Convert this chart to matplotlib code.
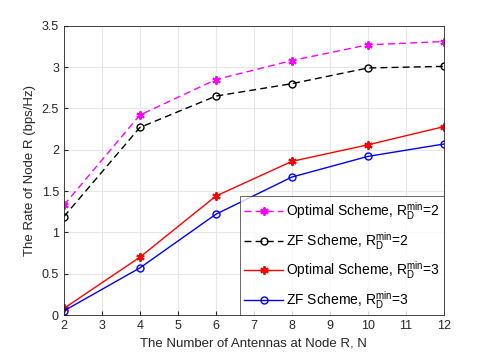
import matplotlib
matplotlib.use('Agg')
import matplotlib.pyplot as plt

plt.rcParams['font.family'] = ['Liberation Sans', 'DejaVu Sans']
plt.rcParams['mathtext.fontset'] = 'custom'
plt.rcParams['mathtext.rm'] = 'Liberation Sans'
plt.rcParams['mathtext.it'] = 'Liberation Sans'

antennas = [2, 4, 6, 8, 10, 12]
opt_2 = [1.33, 2.42, 2.85, 3.08, 3.27, 3.31]
zf_2 = [1.19, 2.27, 2.65, 2.80, 2.99, 3.01]
opt_3 = [0.08, 0.70, 1.44, 1.86, 2.06, 2.28]
zf_3 = [0.05, 0.57, 1.22, 1.67, 1.92, 2.07]

fig = plt.figure(figsize=(4.91, 3.54), dpi=100)
ax = fig.add_axes([0.130, 0.110, 0.774, 0.817])

star = (6, 2, 0)  # MATLAB-style asterisk
ax.plot(antennas, opt_2, color='#ff00ff', ls=(0, (5, 3)), marker=star, ms=6, mew=1.4, lw=1,
        label=r'Optimal Scheme, R$_\mathrm{D}^\mathrm{min}$=2')
ax.plot(antennas, zf_2, color='black', ls=(0, (5, 3)), marker='o', ms=5, mfc='none', lw=1,
        label=r'ZF Scheme, R$_\mathrm{D}^\mathrm{min}$=2')
ax.plot(antennas, opt_3, '-', color='red', marker=star, ms=6, mew=1.4, lw=1,
        label=r'Optimal Scheme, R$_\mathrm{D}^\mathrm{min}$=3')
ax.plot(antennas, zf_3, '-', color='blue', marker='o', ms=5, mfc='none', lw=1,
        label=r'ZF Scheme, R$_\mathrm{D}^\mathrm{min}$=3')

ax.set_xlim(2, 12)
ax.set_ylim(0, 3.5)
ax.set_xticks(range(2, 13))
ax.set_yticks([0, 0.5, 1, 1.5, 2, 2.5, 3, 3.5])
ax.set_yticklabels(['0', '0.5', '1', '1.5', '2', '2.5', '3', '3.5'])
ax.grid(True, color='#e6e6e6', lw=0.8)
ax.set_axisbelow(True)
ax.tick_params(direction='in', labelsize=9, colors='#262626', length=3)
for s in ax.spines.values():
    s.set_color('#262626')
    s.set_linewidth(0.6)

ax.set_xlabel('The Number of Antennas at Node R, N', fontsize=9.5, color='#262626')
ax.set_ylabel('The Rate of Node R (bps/Hz)', fontsize=9.5, color='#262626')

leg = ax.legend(loc='lower right', fontsize=10, fancybox=False, edgecolor='#262626',
                borderaxespad=0, labelspacing=0.55, handlelength=2.8, handletextpad=0.2,
                borderpad=0.3, numpoints=1)
leg.get_frame().set_linewidth(0.6)

fig.savefig('out.png', dpi=100)
